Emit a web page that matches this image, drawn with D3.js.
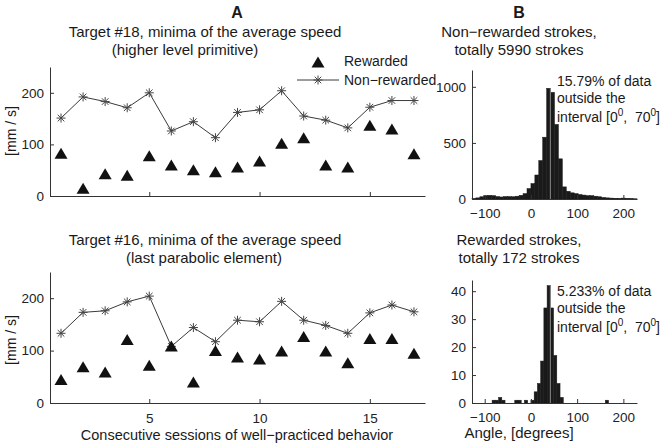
<!DOCTYPE html>
<html><head><meta charset="utf-8">
<script src="https://cdn.jsdelivr.net/npm/d3@7"></script>
<style>
body{margin:0;background:#fff;}
svg{display:block;font-family:"Liberation Sans",Arial,Helvetica,sans-serif;}
</style></head><body>
<svg id="c" width="661" height="443"></svg>
<script>
// ---------- data ----------
const sessions = [1,2,3,4,5,6,7,8,9,10,11,12,13,14,15,16,17];
const t18Rewarded    = [83,15,43,40,78,60,51,47,56,68,102,113,60,56,137,130,82];
const t18NonRewarded = [151,192,183,171,200,126,144,113,162,167,204,155,147,132,172,185,185];
const t16Rewarded    = [45,69,59,121,72,109,40,100,88,84,99,127,99,77,123,123,95];
const t16NonRewarded = [133,173,176,193,204,108,144,117,158,155,194,158,148,133,172,187,174];
const sessionTicks = [5,10,15];
const speedTicks = [0,100,200];

const nonRewBinStart = -127.5, nonRewBinWidth = 8.5;
const nonRewCounts = [3,10,20,30,33,30,22,18,22,22,20,25,33,48,93,138,214,343,551,987,951,665,358,108,69,55,48,40,35,30,30,25,20,14,10,8,6,5,8,5,3,2];
const rewBinStart = -84, rewBinWidth = 7;
const rewCounts = [1,1,2,1,0,0,0,1,1,0,1,0,1,4,7,15,34,42,34,17,7,2,0,0,0,0,0,0,0,0,0,0,0,0,0,1];
const angleTicks = [-100,0,100,200];
const nonRewCountTicks = [0,500,1000];
const rewCountTicks = [0,10,20,30,40];
const markerAngle = 42;

const svg = d3.select("#c");
const INK = "#1a1a1a";

// ---------- scales ----------
const xS = d3.scaleLinear().domain([0.5,17.5]).range([50,425]);
const yTop = d3.scaleLinear().domain([0,250]).range([196,67]);
const yBot = d3.scaleLinear().domain([0,250]).range([403,272]);
const xH = d3.scaleLinear().domain([-127.5,229.5]).range([472,637]);
const yHTop = d3.scaleLinear().domain([0,1150]).range([199,70]);
const yHBot = d3.scaleLinear().domain([0,44]).range([403,280]);

function styleAxis(g){
  g.selectAll(".domain").attr("stroke","#333").attr("stroke-width",1);
  g.selectAll(".tick line").attr("stroke","#333");
  g.selectAll("text").attr("fill","#222").style("font-size","13.5px")
   .style("font-family","'Liberation Sans',Arial,sans-serif");
}
const fmt = d => d < 0 ? "\u2212" + Math.abs(d) : String(d);

function leftPanel(y, rew, nonrew, showXLabels){
  const gx = svg.append("g").attr("transform",`translate(0,${y.range()[0]})`)
    .call(d3.axisBottom(xS).tickValues(sessionTicks).tickSizeInner(-4).tickSizeOuter(0)
      .tickPadding(showXLabels?10:3).tickFormat(showXLabels? d3.format("d") : ""));
  styleAxis(gx);
  const gy = svg.append("g").attr("transform",`translate(${xS.range()[0]},0)`)
    .call(d3.axisLeft(y).tickValues(speedTicks).tickSizeInner(-4).tickSizeOuter(0).tickPadding(6));
  styleAxis(gy);
  const line = d3.line().x((d,i)=>xS(sessions[i])).y(d=>y(d));
  svg.append("path").attr("d",line(nonrew)).attr("fill","none").attr("stroke","#3a3a3a").attr("stroke-width",1);
  const r = 4.5, rd = 3.3;
  const star = `M${-r},0L${r},0M0,${-r}L0,${r}M${-rd},${-rd}L${rd},${rd}M${-rd},${rd}L${rd},${-rd}`;
  svg.append("g").selectAll("path").data(nonrew).join("path")
    .attr("transform",(d,i)=>`translate(${xS(sessions[i])},${y(d)})`)
    .attr("d",star).attr("stroke","#444").attr("stroke-width",1).attr("fill","none");
  const tri = "M0,-5.5L6.5,5.5L-6.5,5.5Z";
  svg.append("g").selectAll("path").data(rew).join("path")
    .attr("transform",(d,i)=>`translate(${xS(sessions[i])},${y(d)})`)
    .attr("d",tri).attr("fill","#111");
}
leftPanel(yTop, t18Rewarded, t18NonRewarded, false);
leftPanel(yBot, t16Rewarded, t16NonRewarded, true);

function histPanel(y, start, width, counts, yTicks){
  const bars = counts.map((c,i)=>({x0:start+i*width, x1:start+(i+1)*width, c}));
  svg.append("g").selectAll("rect").data(bars.filter(b=>b.c>0)).join("rect")
    .attr("x",d=>xH(d.x0)).attr("width",d=>xH(d.x1)-xH(d.x0))
    .attr("y",d=>y(d.c)).attr("height",d=>y(0)-y(d.c))
    .attr("fill",INK).attr("stroke",INK).attr("stroke-width",0.5);
  svg.append("line").attr("x1",xH(markerAngle)).attr("x2",xH(markerAngle))
    .attr("y1",y(0)).attr("y2",y(d3.max(counts))).attr("stroke","#8a8a8a").attr("stroke-width",1);
  const gx = svg.append("g").attr("transform",`translate(0,${y.range()[0]})`)
    .call(d3.axisBottom(xH).tickValues(angleTicks).tickSizeInner(-4).tickSizeOuter(0).tickPadding(9).tickFormat(fmt));
  styleAxis(gx);
  const gy = svg.append("g").attr("transform",`translate(${xH.range()[0]},0)`)
    .call(d3.axisLeft(y).tickValues(yTicks).tickSizeInner(-4).tickSizeOuter(0).tickPadding(6).tickFormat(d3.format("d")));
  styleAxis(gy);
}
histPanel(yHTop, nonRewBinStart, nonRewBinWidth, nonRewCounts, nonRewCountTicks);
histPanel(yHBot, rewBinStart, rewBinWidth, rewCounts, rewCountTicks);

// ---------- texts ----------
function txt(x,y,s,size,opts={}){
  return svg.append("text").attr("x",x).attr("y",y).text(s)
    .attr("text-anchor",opts.anchor||"middle").attr("fill","#1a1a1a")
    .style("font-size",size+"px").style("font-weight",opts.bold?"bold":"normal");
}
txt(237,18,"A",16,{bold:true});
txt(519,18,"B",16,{bold:true});
txt(205,37,"Target #18, minima of the average speed",15);
txt(185,55,"(higher level primitive)",15);
txt(205,245,"Target #16, minima of the average speed",15);
txt(204,263,"(last parabolic element)",15);
txt(519,37,"Non\u2212rewarded strokes,",15);
txt(519,55,"totally 5990 strokes",15);
txt(519,245,"Rewarded strokes,",15);
txt(519,263,"totally 172 strokes",15);
txt(237,440,"Consecutive sessions of well\u2212practiced behavior",14.5);
txt(519,438,"Angle, [degrees]",15);
svg.append("text").attr("transform","translate(16,131) rotate(-90)").attr("text-anchor","middle")
  .style("font-size","14px").attr("fill","#1a1a1a").text("[mm / s]");
svg.append("text").attr("transform","translate(16,340) rotate(-90)").attr("text-anchor","middle")
  .style("font-size","14px").attr("fill","#1a1a1a").text("[mm / s]");

// legend
svg.append("path").attr("transform","translate(318,62)").attr("d","M0,-5.5L6.5,5.5L-6.5,5.5Z").attr("fill","#111");
txt(344,66,"Rewarded",14,{anchor:"start"});
svg.append("line").attr("x1",297).attr("x2",339).attr("y1",80).attr("y2",80).attr("stroke","#3a3a3a");
svg.append("path").attr("transform","translate(318,80)")
  .attr("d","M-4.5,0L4.5,0M0,-4.5L0,4.5M-3.3,-3.3L3.3,3.3M-3.3,3.3L3.3,-3.3").attr("stroke","#444").attr("fill","none");
txt(344,85,"Non\u2212rewarded",14,{anchor:"start"});

// annotations
function annot(y0, pct){
  txt(557,y0,pct+" of data",14,{anchor:"start"});
  txt(557,y0+17,"outside the",14,{anchor:"start"});
  const t = txt(557,y0+36,"",14,{anchor:"start"});
  t.append("tspan").text("interval [0");
  t.append("tspan").text("0").attr("dy",-6).style("font-size","10px");
  t.append("tspan").text(",\u00a0 70").attr("dy",6);
  t.append("tspan").text("0").attr("dy",-6).style("font-size","10px");
  t.append("tspan").text("]").attr("dy",6);
}
annot(86,"15.79%");
annot(296,"5.233%");
</script></body></html>
